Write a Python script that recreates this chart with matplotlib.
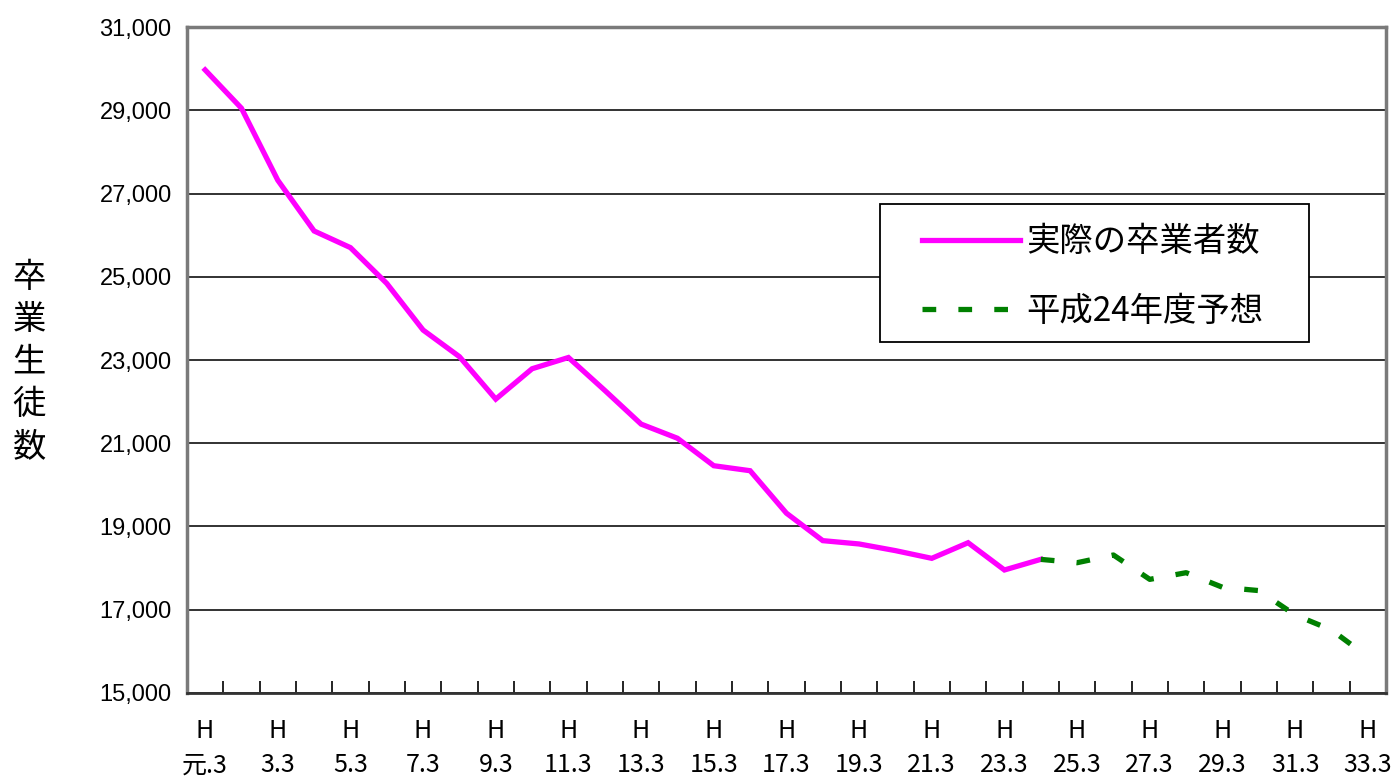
import matplotlib
matplotlib.use("Agg")
import matplotlib.pyplot as plt
from matplotlib.patches import Rectangle
from matplotlib.ticker import FixedLocator, FuncFormatter

# 年度ラベル (H元.3 - H33.3)
years = ["元"] + [str(n) for n in range(2, 34)]
tick_labels = ["H\n" + y + ".3" for y in years]

# 実際の卒業者数 (H元.3 - H24.3)
actual = [29970, 29050, 27320, 26100, 25700, 24840, 23720, 23080,
          22060, 22790, 23060, 22270, 21460, 21120, 20460, 20340,
          19320, 18660, 18580, 18420, 18235, 18610, 17955, 18210]

# 平成24年度予想 (H24.3 - H33.3)
forecast = [18210, 18130, 18315, 17730, 17890, 17540, 17460,
            16875, 16515, 15870]

jp_font = ["Noto Sans CJK JP", "DejaVu Sans"]

fig = plt.figure(figsize=(13.95, 7.81), dpi=100)
ax = fig.add_axes([0.134, 0.1127, 0.8595, 0.8527])

x_actual = list(range(len(actual)))
x_fore = list(range(len(actual) - 1, len(actual) - 1 + len(forecast)))

ax.plot(x_actual, actual, color="#FF00FF", lw=3.8,
        solid_joinstyle="miter", label="実際の卒業者数", zorder=3)
ax.plot(x_fore, forecast, color="#008000", lw=3.8, dashes=(2.6, 4.2),
        label="平成24年度予想", zorder=4)

ax.set_xlim(-0.5, len(years) - 0.5)
ax.set_ylim(15000, 31000)

ax.set_yticks(range(15000, 31001, 2000))
ax.yaxis.set_major_formatter(FuncFormatter(lambda v, p: f"{int(v):,}"))
ax.tick_params(axis="y", length=0, pad=11, labelsize=17)
for t in ax.get_yticklabels():
    t.set_family(["Liberation Sans", "DejaVu Sans"])

ax.set_xticks(range(0, len(years), 2))
ax.set_xticklabels(tick_labels[::2], family=jp_font, fontsize=18,
                   linespacing=1.42)
ax.tick_params(axis="x", which="major", length=0, pad=18)
ax.xaxis.set_minor_locator(FixedLocator([k - 0.5 for k in range(1, len(years))]))
ax.tick_params(axis="x", which="minor", direction="in", length=9,
               width=1.2, color="black")

ax.yaxis.grid(True, color="#222222", lw=1.3)
ax.set_axisbelow(True)
for side in ["top", "right", "left"]:
    ax.spines[side].set_color("#7a7a7a")
    ax.spines[side].set_linewidth(2.5)
ax.spines["bottom"].set_color("#333333")
ax.spines["bottom"].set_linewidth(2.0)

fig.text(0.0208, 0.5365, "卒\n業\n生\n徒\n数", family=jp_font, fontsize=24,
         ha="center", va="center", linespacing=1.27)

# legend box drawn separately so its padding matches the original
ax.add_patch(Rectangle((0.578, 0.527), 0.3578, 0.2072, transform=ax.transAxes,
                       facecolor="white", edgecolor="black", lw=1.3,
                       zorder=4.5, clip_on=False))
leg = ax.legend(loc="upper left", bbox_to_anchor=(0.613, 0.7037), prop={
    "family": jp_font, "size": 24}, frameon=False, handlelength=2.94,
    handletextpad=0.2, labelspacing=1.04, borderpad=0, borderaxespad=0)
leg.set_zorder(6)

fig.savefig("out.png", dpi=100)
